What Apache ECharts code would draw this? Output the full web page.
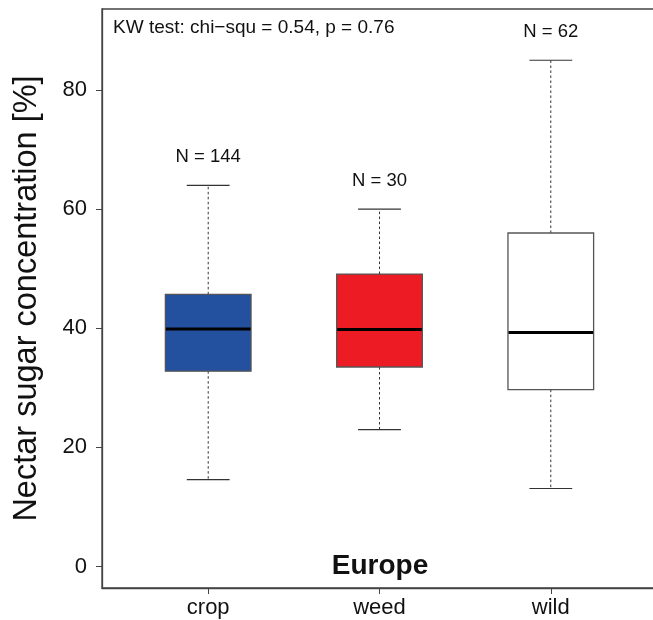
<!DOCTYPE html>
<html>
<head>
<meta charset="utf-8">
<script src="https://cdn.jsdelivr.net/npm/echarts@6/dist/echarts.min.js"></script>
<style>
html,body{margin:0;padding:0;background:#fff;}
#chart{width:653px;height:620px;}
</style>
</head>
<body>
<div id="chart"></div>
<script>
// ---- data ----
const categories = ['crop', 'weed', 'wild'];
const lowerWhisker = [14.6, 23.0, 13.1];
const q1 = [32.8, 33.5, 29.7];
const median = [39.9, 39.8, 39.3];
const q3 = [45.7, 49.1, 56.0];
const upperWhisker = [64.0, 60.0, 85.0];
const nLabels = ['N = 144', 'N = 30', 'N = 62'];
const yTicks = [0, 20, 40, 60, 80];
const statText = 'KW test: chi\u2212squ = 0.54, p = 0.76';
const groupTitle = 'Europe';
const yTitle = 'Nectar sugar concentration [%]';

// ---- styles ----
const fillColors = ['#2450a0', '#ed1c24', '#ffffff'];
const FONT = 'Liberation Sans, Arial, sans-serif';

const xPositions = categories.map((c, i) => i + 1);
const seriesData = categories.map((c, i) => [xPositions[i], lowerWhisker[i], q1[i], median[i], q3[i], upperWhisker[i], i]);

const chart = echarts.init(document.getElementById('chart'), null, {renderer: 'canvas'});

function renderItem(params, api) {
  const x = api.value(0);
  const idx = api.value(6);
  const lo = api.coord([x, api.value(1)]);
  const b1 = api.coord([x, api.value(2)]);
  const md = api.coord([x, api.value(3)]);
  const b3 = api.coord([x, api.value(4)]);
  const hi = api.coord([x, api.value(5)]);
  const bl = api.coord([x - 0.25, 0])[0];
  const br = api.coord([x + 0.25, 0])[0];
  const cl = api.coord([x - 0.125, 0])[0];
  const cr = api.coord([x + 0.125, 0])[0];
  const cx = lo[0];
  const dash = {stroke: '#333', lineWidth: 1, lineDash: [2.5, 2.5]};
  const solid = {stroke: '#333', lineWidth: 1.2};
  return {
    type: 'group',
    children: [
      {type: 'line', shape: {x1: cx, y1: b3[1], x2: cx, y2: hi[1]}, style: dash},
      {type: 'line', shape: {x1: cx, y1: b1[1], x2: cx, y2: lo[1]}, style: dash},
      {type: 'line', shape: {x1: cl, y1: hi[1], x2: cr, y2: hi[1]}, style: solid},
      {type: 'line', shape: {x1: cl, y1: lo[1], x2: cr, y2: lo[1]}, style: solid},
      {type: 'rect', shape: {x: bl, y: b3[1], width: br - bl, height: b1[1] - b3[1]},
        style: {fill: fillColors[idx], stroke: '#555', lineWidth: 1.3}},
      {type: 'line', shape: {x1: bl + 0.5, y1: md[1], x2: br - 0.5, y2: md[1]}, style: {stroke: '#000', lineWidth: 3}},
      {type: 'text', style: {x: cx, y: hi[1] - 28, text: nLabels[idx], fill: '#111',
        font: '18.5px ' + FONT, textAlign: 'center', textVerticalAlign: 'middle'}}
    ]
  };
}

const option = {
  backgroundColor: '#fff',
  animation: false,
  grid: {left: 102, top: 9, right: -4, bottom: 32, show: true, borderColor: '#444', borderWidth: 1.3,
    backgroundColor: 'transparent', containLabel: false, outerBoundsMode: 'none'},
  xAxis: {
    type: 'value', min: 0.38, max: 3.62,
    axisLine: {show: true, onZero: false, lineStyle: {color: '#444', width: 1.3}},
    axisTick: {show: true, length: 6, lineStyle: {color: '#444'}, customValues: xPositions},
    axisLabel: {show: true, margin: 9, fontSize: 22, color: '#111', fontFamily: FONT, customValues: xPositions,
      formatter: v => categories[Math.round(v) - 1] || ''},
    splitLine: {show: false}
  },
  yAxis: {
    type: 'value', min: -3.6, max: 93.6,
    name: yTitle, nameLocation: 'middle', nameGap: 58,
    nameTextStyle: {fontSize: 32.5, color: '#111', fontFamily: FONT},
    axisLine: {show: true, onZero: false, lineStyle: {color: '#444', width: 1.3}},
    axisTick: {show: true, length: 6, lineStyle: {color: '#444'}, customValues: yTicks},
    axisLabel: {show: true, margin: 15, fontSize: 22, color: '#111', fontFamily: FONT, customValues: yTicks},
    splitLine: {show: false}
  },
  graphic: [
    {type: 'text', left: 113, top: 18, style: {text: statText, font: '19px ' + FONT, fill: '#111'}},
    {type: 'text', x: 380, y: 566, style: {text: groupTitle, font: 'bold 28px ' + FONT, fill: '#111', textAlign: 'center', textVerticalAlign: 'middle'}}
  ],
  series: [{
    type: 'custom',
    renderItem: renderItem,
    encode: {x: 0, y: [1, 2, 3, 4, 5]},
    data: seriesData,
    clip: false
  }]
};
chart.setOption(option);
</script>
</body>
</html>
